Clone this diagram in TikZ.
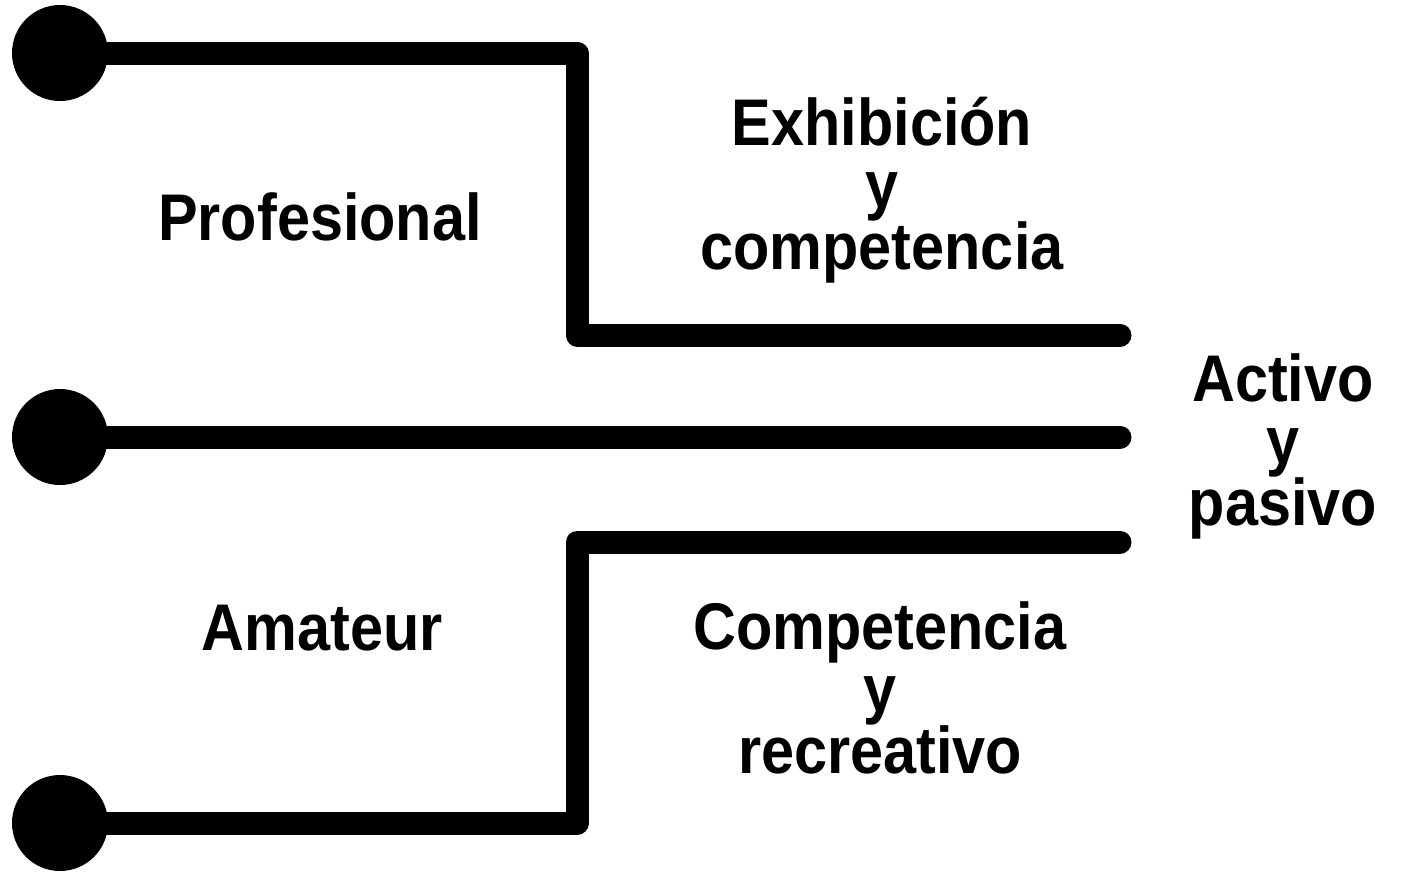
\documentclass[tikz,border=0pt]{standalone}
\usepackage{fontspec}
\setmainfont{Liberation Sans}[FakeStretch=0.9]
\begin{document}
\begin{tikzpicture}[x=1pt,y=-1pt,
  wire/.style={line width=23pt,line join=round,line cap=butt},
  endcap/.style={line width=23pt,line join=round,line cap=round},
  dot/.style={circle,fill=black,minimum size=96pt,inner sep=0pt},
  lbl/.style={font=\fontsize{66}{62}\selectfont\bfseries,align=center,inner sep=0pt}]
\useasboundingbox (0,0) rectangle (1405,871);
\node[dot] (d1) at (60,53) {};
\node[dot] (d2) at (60,437) {};
\node[dot] (d3) at (60,823) {};
\coordinate (e1) at (1120,335);
\coordinate (e2) at (1120,437);
\coordinate (e3) at (1120,542);
\draw[wire,line cap=round] (d1.center) -| (577,335) -- (e1);
\draw[wire,line cap=round] (d2.center) -- (e2);
\draw[wire,line cap=round] (d3.center) -| (577,542) -- (e3);
\node[lbl] (prof) at (320,217) {Profesional};
\node[lbl] (exh) at (882,190) {Exhibición\\y\\competencia};
\node[lbl] (act) at (1283,446) {Activo\\y\\pasivo};
\node[lbl] (ama) at (322,628) {Amateur};
\node[lbl] (comp) at (880,688) {Competencia\\y\\recreativo};
\end{tikzpicture}
\end{document}
